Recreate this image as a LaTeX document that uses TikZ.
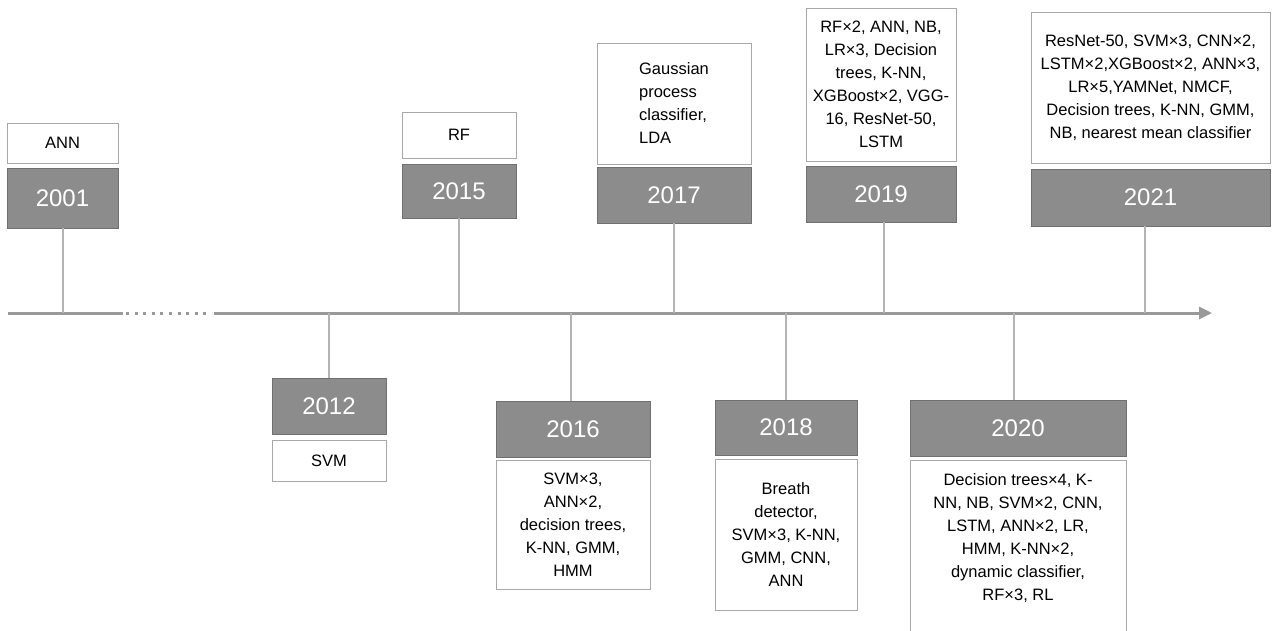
\documentclass[tikz,border=0pt]{standalone}
\usepackage{fontspec}
\setmainfont{Liberation Sans}
\usetikzlibrary{arrows.meta}
\definecolor{yearfill}{HTML}{8C8C8C}
\definecolor{yearedge}{HTML}{707070}
\definecolor{boxedge}{HTML}{A8A8A8}
\definecolor{axisgray}{HTML}{999999}
\definecolor{conngray}{HTML}{B4B4B4}
\begin{document}
\begin{tikzpicture}[x=1pt,y=-1pt,
  ybox/.style={draw=yearedge,fill=yearfill,line width=0.9pt,inner sep=0pt,text=white,
    font=\fontsize{24}{28}\selectfont},
  wbox/.style={draw=boxedge,fill=white,line width=0.9pt,inner sep=0pt,align=center,
    font=\fontsize{16.5}{23}\selectfont},
  conn/.style={draw=conngray,line width=1.4pt},
  axisline/.style={draw=axisgray,line width=3pt},
  lbl/.style={inner sep=0pt,align=center,font=\fontsize{16.5}{23}\selectfont}]
\clip (0,0) rectangle (1287,630);
\fill[white] (0,0) rectangle (1287,630);
% axis
\coordinate (a0) at (8,313);
\coordinate (a1) at (123,313);
\coordinate (a2) at (126,313);
\coordinate (a3) at (212,313);
\coordinate (a4) at (214,313);
\coordinate (a5) at (1212,313);
\draw[axisline] (a0) -- (a1);
\draw[axisline,dash pattern=on 3pt off 5.6pt] (a2) -- (a3);
\draw[axisline,-{Triangle[length=13pt,width=12pt]}] (a4) -- (a5);
% axis points
\coordinate (p01) at (63,313);
\coordinate (p12) at (329,313);
\coordinate (p15) at (459,313);
\coordinate (p16) at (571,313);
\coordinate (p17) at (674,313);
\coordinate (p18) at (786,313);
\coordinate (p19) at (884,313);
\coordinate (p20) at (1014,313);
\coordinate (p21) at (1145,313);
% 2001
\node[wbox,minimum width=111,minimum height=40] (w01) at (62.5,143) {ANN};
\node[ybox,minimum width=111,minimum height=60] (y01) at (62.5,198) {2001};
% 2012
\node[ybox,minimum width=114,minimum height=56] (y12) at (329,406) {2012};
\node[wbox,minimum width=114,minimum height=41] (w12) at (329,460.5) {SVM};
% 2015
\node[wbox,minimum width=114,minimum height=46] (w15) at (459,135) {RF};
\node[ybox,minimum width=114,minimum height=54] (y15) at (459,191) {2015};
% 2016
\node[ybox,minimum width=154,minimum height=56] (y16) at (573,429) {2016};
\node[wbox,minimum width=154,minimum height=129] (w16) at (573,524.5) {SVM×3,\\ANN×2,\\decision trees,\\K-NN, GMM,\\HMM};
% 2017
\node[wbox,minimum width=154,minimum height=121,align=left] (w17) at (674,103.5) {Gaussian\\process\\classifier,\\LDA};
\node[ybox,minimum width=154,minimum height=56] (y17) at (674,195) {2017};
% 2018
\node[ybox,minimum width=142,minimum height=55] (y18) at (786,427.5) {2018};
\node[wbox,minimum width=142,minimum height=151] (w18) at (786,534.5) {Breath\\detector,\\SVM×3, K-NN,\\GMM, CNN,\\ANN};
% 2019
\node[wbox,minimum width=150,minimum height=153] (w19) at (881,84.5) {RF×2, ANN, NB,\\LR×3, Decision\\trees, K-NN,\\XGBoost×2, VGG-\\16, ResNet-50,\\LSTM};
\node[ybox,minimum width=150,minimum height=56] (y19) at (881,194) {2019};
% 2020
\node[ybox,minimum width=216,minimum height=56] (y20) at (1018,428) {2020};
\node[wbox,minimum width=216,minimum height=200] (w20) at (1018,560) {};
\node[lbl] (t20) at (1018,538) {Decision trees×4, K-\\NN, NB, SVM×2, CNN,\\LSTM, ANN×2, LR,\\HMM, K-NN×2,\\dynamic classifier,\\RF×3, RL};
% 2021
\node[wbox,minimum width=239,minimum height=151] (w21) at (1150.5,87.5) {ResNet-50, SVM×3, CNN×2,\\LSTM×2,XGBoost×2, ANN×3,\\LR×5,YAMNet, NMCF,\\Decision trees, K-NN, GMM,\\NB, nearest mean classifier};
\node[ybox,minimum width=239,minimum height=57] (y21) at (1150.5,197.5) {2021};
% connectors
\draw[conn] (p01 |- y01.south) -- (p01);
\draw[conn] (p15 |- y15.south) -- (p15);
\draw[conn] (p17 |- y17.south) -- (p17);
\draw[conn] (p19 |- y19.south) -- (p19);
\draw[conn] (p21 |- y21.south) -- (p21);
\draw[conn] (p12) -- (p12 |- y12.north);
\draw[conn] (p16) -- (p16 |- y16.north);
\draw[conn] (p18) -- (p18 |- y18.north);
\draw[conn] (p20) -- (p20 |- y20.north);
\end{tikzpicture}
\end{document}
